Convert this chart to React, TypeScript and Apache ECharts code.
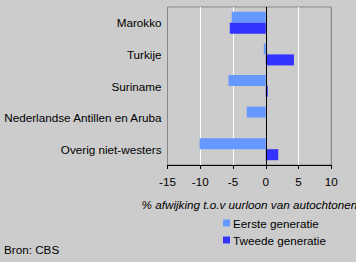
import React, { useEffect, useRef } from "react";
import * as echarts from "echarts";

const categories = ["Marokko", "Turkije", "Suriname", "Nederlandse Antillen en Aruba", "Overig niet-westers"];
const eersteGeneratie = [-5.2, -0.3, -5.7, -2.9, -10.1];
const tweedeGeneratie = [-5.5, 4.3, 0.3, null, 1.9];
const seriesNames = ["Eerste generatie", "Tweede generatie"];
const axisTitle = "% afwijking t.o.v uurloon van autochtonen";
const source = "Bron: CBS";

const FONT = "'Liberation Sans', Arial, sans-serif";
const FS = 11.7;

export default function App() {
  const ref = useRef<HTMLDivElement>(null);
  useEffect(() => {
    if (!ref.current) return;
    const chart = echarts.init(ref.current, null, { renderer: "svg" });
    chart.setOption({
      animation: false,
      backgroundColor: "#cccccc",
      textStyle: { fontFamily: FONT },
      grid: {
        left: 159,
        right: 15,
        top: 7,
        bottom: 97,
        containLabel: false,
        show: true,
        backgroundColor: "#cccccc",
        borderColor: "#888888",
        borderWidth: 1,
      },
      xAxis: {
        type: "value",
        min: -15,
        max: 10,
        interval: 5,
        name: axisTitle,
        nameLocation: "middle",
        nameGap: 33,
        nameTextStyle: { fontStyle: "italic", fontSize: FS, color: "#000", fontFamily: FONT },
        axisLine: { show: true, onZero: false, lineStyle: { color: "#000", width: 1 } },
        axisTick: { show: true, length: 4, lineStyle: { color: "#000" } },
        axisLabel: { fontSize: FS, color: "#000", margin: 10, fontFamily: FONT },
        splitLine: {
          show: true,
          lineStyle: { color: ["#888888", "#ffffff", "#ffffff", "#ffffff", "#ffffff", "#888888"], width: 1 },
        },
      },
      yAxis: {
        type: "category",
        data: categories,
        inverse: true,
        axisLine: { show: false },
        axisTick: { show: false },
        axisLabel: { fontSize: FS, color: "#000", margin: 6, fontFamily: FONT },
        splitLine: { show: false },
      },
      legend: {
        orient: "vertical",
        left: 218,
        top: 212,
        itemWidth: 7,
        itemHeight: 7,
        itemGap: 5,
        icon: "rect",
        textStyle: { fontSize: FS, color: "#000", fontFamily: FONT, padding: [0, 0, 0, -2] },
        data: seriesNames,
      },
      series: [
        {
          name: seriesNames[0],
          type: "bar",
          data: eersteGeneratie,
          barWidth: 11,
          barGap: "0%",
          itemStyle: { color: "#6699ff" },
          markLine: {
            silent: true,
            symbol: "none",
            label: { show: false },
            lineStyle: { color: "#000", width: 1, type: "solid" },
            data: [{ xAxis: 0 }],
            z: 10,
          },
        },
        {
          name: seriesNames[1],
          type: "bar",
          data: tweedeGeneratie,
          barWidth: 11,
          barGap: "0%",
          itemStyle: { color: "#3333ff" },
        },
      ],
      graphic: [
        {
          type: "text",
          left: 4,
          top: 243,
          style: { text: source, fontSize: FS, fill: "#000", fontFamily: FONT },
        },
      ],
    });
    return () => chart.dispose();
  }, []);
  return <div ref={ref} style={{ position: "fixed", left: 0, top: 0, width: 356, height: 262 }} />;
}
